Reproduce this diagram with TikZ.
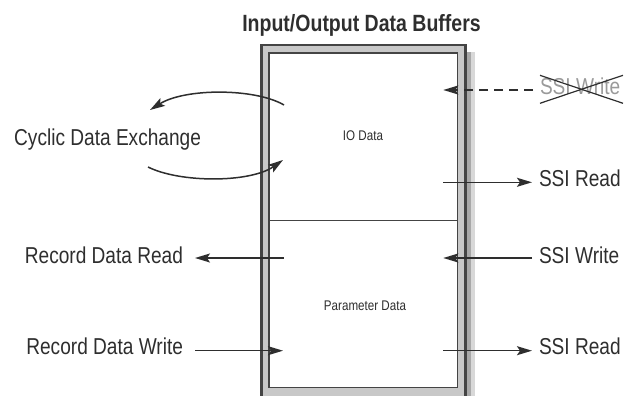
\documentclass[tikz,border=0pt]{standalone}
\usepackage{fontspec}
\setmainfont{Liberation Sans}[FakeStretch=0.83]
\usetikzlibrary{calc,arrows.meta}
\definecolor{textgray}{HTML}{2E2E2E}
\definecolor{linegray}{HTML}{444444}
\definecolor{bandgray}{HTML}{C8C8C8}
\definecolor{shadowdark}{HTML}{A8A8A8}
\definecolor{shadowlight}{HTML}{D8D8D8}
\definecolor{crossedgray}{HTML}{9A9A9A}
\tikzset{
  label text/.style={font=\fontsize{23}{27}\selectfont,text=textgray,inner sep=0pt},
  small text/.style={font=\fontsize{14}{17}\selectfont,text=textgray,inner sep=0pt},
  flow/.style={draw=textgray,line width=1.5pt,-{Stealth[length=15pt,width=9pt,inset=3pt]}}
}
\newcommand\RightLabel[3]{
  \node[label text,anchor=base west,outer sep=7pt] (#1) at (532,#2) {#3};
}
\newcommand\LeftLabel[3]{
  \node[label text,anchor=base east,outer sep=12pt] (#1) at (195,#2) {#3};
}
\begin{document}
\begin{tikzpicture}[x=1pt,y=-1pt]
\useasboundingbox (0,0) rectangle (629,396);
% buffer frame
\fill[shadowdark] (466.6,52) rectangle (471,396);
\fill[shadowlight] (471,52) rectangle (474.5,396);
\fill[bandgray] (261.5,45) rectangle (465.5,400);
\fill[white] (269,53) rectangle (457.3,387.5);
\draw[linegray,line width=2.2pt] (261.5,45) rectangle (465.5,400);
\draw[linegray,line width=1.2pt] (269,53) rectangle (457.3,387.5);
\draw[linegray,line width=1pt] (269,220) -- (457.3,220);

\node[font=\bfseries\fontsize{23.5}{28}\selectfont,text=textgray,anchor=base] (title) at (361.5,31.7) {Input/Output Data Buffers};
\node[small text,anchor=base] (iodata) at (363,140) {IO Data};
\node[small text,anchor=base] (paramdata) at (365,310) {Parameter Data};
\node[label text,anchor=base west] (cyclic) at (14,145) {Cyclic Data Exchange};

\node[label text,anchor=base west,outer sep=7pt,text=crossedgray] (ssiwio) at (533,94.3) {SSI Write};
\RightLabel{ssirio}{186.7}{SSI Read}
\RightLabel{ssiwpar}{263.3}{SSI Write}
\RightLabel{ssirpar}{354.3}{SSI Read}
\LeftLabel{recread}{263.3}{Record Data Read}
\LeftLabel{recwrite}{354.3}{Record Data Write}

\coordinate (wio) at (443.3,90);
\coordinate (rio) at (443.3,182.3);
\coordinate (wpar) at (443.3,258);
\coordinate (rpar) at (443.3,350.7);
\coordinate (rrec) at (283.5,258);
\coordinate (wrec) at (283,350.7);
\coordinate (cycout) at (284,105);
\coordinate (cycoutend) at (150,110);
\coordinate (cycin) at (148,167);
\coordinate (cycinend) at (283,160);

\draw[flow,dash pattern=on 9pt off 6pt] (ssiwio.west |- wio) -- (wio);
\draw[textgray,line width=1.2pt] ($(ssiwio.base west)+(7,-19)$) -- ($(ssiwio.base west)+(90,9)$);
\draw[textgray,line width=1.2pt] ($(ssiwio.base west)+(7,9)$) -- ($(ssiwio.base west)+(90,-19)$);
\draw[flow] (rio) -- (rio -| ssirio.west);
\draw[flow] (ssiwpar.west |- wpar) -- (wpar);
\draw[flow] (rpar) -- (rpar -| ssirpar.west);
\draw[flow] (rrec) -- (rrec -| recread.east);
\draw[flow] (recwrite.east |- wrec) -- (wrec);
\draw[flow] (cycout) .. controls (255,88) and (185,88) .. (cycoutend);
\draw[flow] (cycin) .. controls (180,183) and (250,183) .. (cycinend);
\end{tikzpicture}
\end{document}
